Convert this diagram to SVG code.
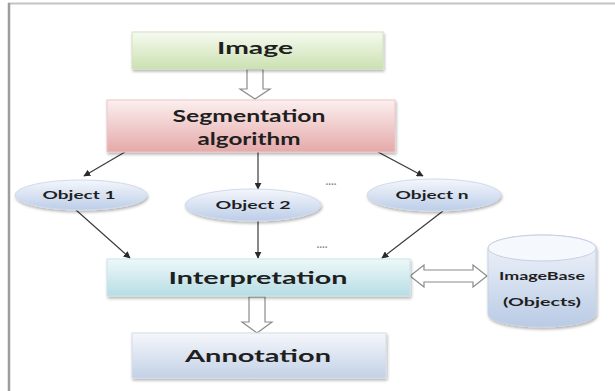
<svg xmlns="http://www.w3.org/2000/svg" width="615" height="391" viewBox="0 0 615 391">
  <style>
    .lbl { font-family: Lato, "Open Sans", "Liberation Sans", sans-serif; font-weight: bold; fill: #1f1f1f; text-anchor: middle; }
    .big { font-size: 17px; }
    .small { font-size: 11px; }
    .edge { fill: none; stroke: #3a3a3a; stroke-width: 1.2; }
    .hollow { fill: #ffffff; stroke: #8c8c8c; stroke-width: 1.2; stroke-linejoin: miter; }
    .dots { font-family: "Liberation Sans", sans-serif; font-size: 10px; font-weight: bold; fill: #8a8a8a; text-anchor: middle; }
  </style>
  <defs>
    <linearGradient id="gGreen" x1="0" y1="0" x2="0" y2="1">
      <stop offset="0" stop-color="#f6faf1"/>
      <stop offset="1" stop-color="#cbe1b0"/>
    </linearGradient>
    <linearGradient id="gPink" x1="0" y1="0" x2="0" y2="1">
      <stop offset="0" stop-color="#fcefef"/>
      <stop offset="1" stop-color="#e5a9a9"/>
    </linearGradient>
    <linearGradient id="gCyan" x1="0" y1="0" x2="0" y2="1">
      <stop offset="0" stop-color="#eef8f9"/>
      <stop offset="1" stop-color="#b6dde4"/>
    </linearGradient>
    <linearGradient id="gSteel" x1="0" y1="0" x2="0" y2="1">
      <stop offset="0" stop-color="#f5f7fb"/>
      <stop offset="1" stop-color="#c3d1e6"/>
    </linearGradient>
    <linearGradient id="gOval" x1="0" y1="0" x2="0" y2="1">
      <stop offset="0" stop-color="#f4f7fc"/>
      <stop offset="1" stop-color="#bccde8"/>
    </linearGradient>
    <linearGradient id="gDrum" x1="0" y1="0" x2="0" y2="1">
      <stop offset="0" stop-color="#f3f6fb"/>
      <stop offset="1" stop-color="#b9cbe5"/>
    </linearGradient>
    <filter id="shadow" x="-10%" y="-20%" width="120%" height="150%">
      <feGaussianBlur in="SourceAlpha" stdDeviation="1.5"/>
      <feOffset dx="1" dy="2" result="off"/>
      <feComponentTransfer><feFuncA type="linear" slope="0.3"/></feComponentTransfer>
      <feMerge><feMergeNode/><feMergeNode in="SourceGraphic"/></feMerge>
    </filter>
    <marker id="tip" viewBox="0 0 10 10" refX="9" refY="5" markerWidth="7" markerHeight="7" markerUnits="userSpaceOnUse" orient="auto">
      <path d="M0,0 L10,5 L0,10 z" fill="#2a2a2a"/>
    </marker>
  </defs>

  <!-- page frame -->
  <g id="frame">
    <line x1="8" y1="3.5" x2="615" y2="3.5" stroke="#c4c4c4" stroke-width="2"/>
    <line x1="9" y1="3" x2="9" y2="391" stroke="#9d9d9d" stroke-width="2.5"/>
  </g>

  <!-- connectors -->
  <g id="connectors">
    <!-- Image to Segmentation -->
    <path class="hollow" d="M247,69 L263,69 L263,89 L270,89 L255,99 L240,89 L247,89 z"/>
    <!-- Segmentation to objects -->
    <line class="edge" x1="125" y1="152" x2="84" y2="176" marker-end="url(#tip)"/>
    <line class="edge" x1="258" y1="152" x2="258" y2="189" marker-end="url(#tip)"/>
    <line class="edge" x1="378" y1="152" x2="423" y2="176" marker-end="url(#tip)"/>
    <!-- objects to Interpretation -->
    <line class="edge" x1="76" y1="210" x2="130" y2="258" marker-end="url(#tip)"/>
    <line class="edge" x1="258" y1="221" x2="258" y2="258" marker-end="url(#tip)"/>
    <line class="edge" x1="443" y1="211" x2="382" y2="258" marker-end="url(#tip)"/>
    <!-- Interpretation to ImageBase (both ways) -->
    <path class="hollow" d="M410,276 L424,265 L424,270 L473,270 L473,265 L487,276 L473,287 L473,282 L424,282 L424,287 z"/>
    <!-- Interpretation to Annotation -->
    <path class="hollow" d="M249,297 L265,297 L265,322 L272,322 L257,333 L242,322 L249,322 z"/>
    <text class="dots" x="331" y="185">....</text>
    <text class="dots" x="322" y="248">....</text>
  </g>

  <g id="image">
    <rect x="132" y="32" width="251" height="37" fill="url(#gGreen)" stroke="#d3e1c2" stroke-width="1" filter="url(#shadow)"/>
    <text class="lbl big" x="255" y="54" textLength="76" lengthAdjust="spacingAndGlyphs">Image</text>
  </g>

  <g id="segmentation">
    <rect x="107" y="100" width="288" height="52" fill="url(#gPink)" stroke="#ecc6c6" stroke-width="1" filter="url(#shadow)"/>
    <text class="lbl big" x="249" y="122" textLength="153" lengthAdjust="spacingAndGlyphs">Segmentation</text>
    <text class="lbl big" x="249" y="145" textLength="103" lengthAdjust="spacingAndGlyphs">algorithm</text>
  </g>

  <g id="object1">
    <ellipse cx="81" cy="195" rx="66" ry="15" fill="url(#gOval)" stroke="#d0dbec" stroke-width="1" filter="url(#shadow)"/>
    <text class="lbl small" x="79" y="199" textLength="73" lengthAdjust="spacingAndGlyphs">Object 1</text>
  </g>

  <g id="object2">
    <ellipse cx="253" cy="205" rx="68" ry="16" fill="url(#gOval)" stroke="#d0dbec" stroke-width="1" filter="url(#shadow)"/>
    <text class="lbl small" x="253" y="209" textLength="75" lengthAdjust="spacingAndGlyphs">Object 2</text>
  </g>

  <g id="objectn">
    <ellipse cx="434" cy="195" rx="67" ry="16" fill="url(#gOval)" stroke="#d0dbec" stroke-width="1" filter="url(#shadow)"/>
    <text class="lbl small" x="432" y="199" textLength="73" lengthAdjust="spacingAndGlyphs">Object n</text>
  </g>

  <g id="interpretation">
    <rect x="107" y="259" width="303" height="37" fill="url(#gCyan)" stroke="#c9e6ea" stroke-width="1" filter="url(#shadow)"/>
    <text class="lbl big" x="258" y="284" textLength="179" lengthAdjust="spacingAndGlyphs">Interpretation</text>
  </g>

  <g id="annotation">
    <rect x="132" y="333" width="254" height="45" fill="url(#gSteel)" stroke="#d3dcea" stroke-width="1" filter="url(#shadow)"/>
    <text class="lbl big" x="258" y="362" textLength="146" lengthAdjust="spacingAndGlyphs">Annotation</text>
  </g>

  <g id="imagebase">
    <path d="M488,248 L488,314 A54,13 0 0 0 596,314 L596,248 A54,13 0 0 0 488,248 z" fill="url(#gDrum)" stroke="#c6d1e3" stroke-width="1" filter="url(#shadow)"/>
    <ellipse cx="542" cy="248" rx="54" ry="13" fill="#f5f8fc" stroke="#c6d1e3" stroke-width="1"/>
    <text class="lbl small" x="542" y="280" textLength="86" lengthAdjust="spacingAndGlyphs">ImageBase</text>
    <text class="lbl small" x="542" y="306" textLength="78" lengthAdjust="spacingAndGlyphs">(Objects)</text>
  </g>
</svg>
